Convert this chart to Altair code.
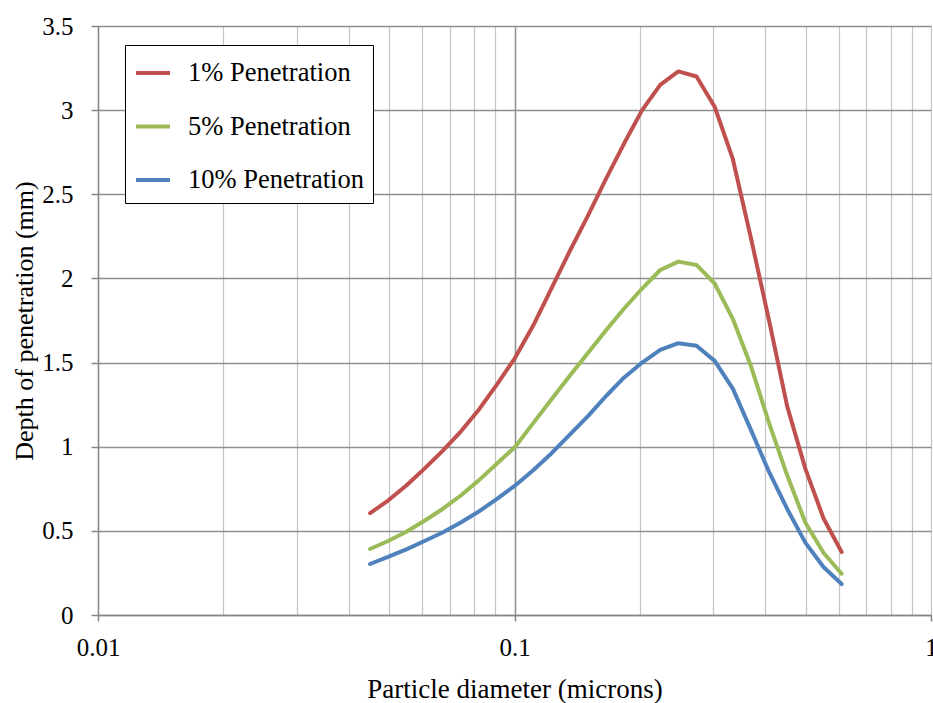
import altair as alt
import pandas as pd

# Particle diameters (microns) at which penetration depth was evaluated
diameter = [0.0450, 0.0497, 0.0550, 0.0608, 0.0672, 0.0743, 0.0821, 0.0908, 0.1004,
            0.1109, 0.1226, 0.1356, 0.1499, 0.1657, 0.1831, 0.2025, 0.2238, 0.2474,
            0.2735, 0.3024, 0.3343, 0.3695, 0.4085, 0.4516, 0.4992, 0.5519, 0.6101]

# Depth of penetration (mm) for each penetration level
pen_1 = [0.605, 0.68, 0.77, 0.87, 0.975, 1.09, 1.22, 1.37, 1.53,
         1.72, 1.94, 2.16, 2.37, 2.59, 2.80, 3.00, 3.15, 3.23,
         3.20, 3.02, 2.71, 2.24, 1.75, 1.24, 0.87, 0.575, 0.374]
pen_5 = [0.392, 0.44, 0.495, 0.56, 0.63, 0.71, 0.80, 0.90, 1.00,
         1.14, 1.28, 1.42, 1.555, 1.69, 1.82, 1.94, 2.05, 2.10,
         2.08, 1.97, 1.76, 1.48, 1.14, 0.83, 0.55, 0.37, 0.245]
pen_10 = [0.303, 0.345, 0.39, 0.44, 0.49, 0.55, 0.615, 0.69, 0.77,
          0.86, 0.96, 1.07, 1.18, 1.30, 1.41, 1.50, 1.575, 1.615,
          1.60, 1.51, 1.345, 1.10, 0.85, 0.63, 0.43, 0.285, 0.184]

series_names = ["1% Penetration", "5% Penetration", "10% Penetration"]
series_colors = ["#C0504D", "#9BBB59", "#4F81BD"]

x_ticks = [0.01, 0.02, 0.03, 0.04, 0.05, 0.06, 0.07, 0.08, 0.09,
           0.1, 0.2, 0.3, 0.4, 0.5, 0.6, 0.7, 0.8, 0.9, 1]
y_ticks = [0, 0.5, 1, 1.5, 2, 2.5, 3, 3.5]

rows = []
for name, values in zip(series_names, [pen_1, pen_5, pen_10]):
    for d, v in zip(diameter, values):
        rows.append({"diameter": d, "depth": v, "series": name})
df = pd.DataFrame(rows)

FONT = "Liberation Serif"
decade_test = "datum.value == 0.01 || datum.value == 0.1 || datum.value == 1"

x_axis = alt.Axis(
    values=x_ticks,
    labelExpr="datum.value == 0.01 ? '0.01' : datum.value == 0.1 ? '0.1' : datum.value == 1 ? '1' : ''",
    labelOverlap=False,
    labelFlush=False,
    labelPadding=14,
    tickSize=6,
    tickOpacity={"condition": {"test": decade_test, "value": 1}, "value": 0},
    gridColor={"condition": {"test": "datum.value == 0.1", "value": "#8f8f8f"}, "value": "#c4c4c4"},
    gridWidth={"condition": {"test": "datum.value == 0.1", "value": 1.5}, "value": 1.2},
    title="Particle diameter (microns)",
    titleFontSize=27,
    titleY=82,
)

y_axis = alt.Axis(
    values=y_ticks,
    format="~g",
    labelPadding=18,
    tickSize=7,
    gridColor="#8f8f8f",
    gridWidth=1.5,
    title="Depth of penetration (mm)",
    titleFontSize=26,
    titleX=-66,
)

legend = alt.Legend(
    orient="none",
    legendX=27,
    legendY=19,
    title=None,
    symbolType="stroke",
    symbolSize=1156,
    symbolStrokeWidth=4,
    labelOffset=16,
    labelLimit=0,
    rowPadding=20.5,
    padding=9,
    strokeColor="black",
    fillColor="white",
)

chart = alt.Chart(df).mark_line(strokeWidth=4, strokeCap="round", strokeJoin="round").encode(
    x=alt.X("diameter:Q", scale=alt.Scale(type="log", domain=[0.01, 1], nice=False), axis=x_axis),
    y=alt.Y("depth:Q", scale=alt.Scale(domain=[0, 3.5], nice=False), axis=y_axis),
    color=alt.Color("series:N", sort=series_names,
                    scale=alt.Scale(domain=series_names, range=series_colors), legend=legend),
    order=alt.Order("diameter:Q"),
).properties(
    width=833,
    height=589,
    autosize=alt.AutoSizeParams(type="none"),
    padding={"left": 98, "top": 26, "right": 2, "bottom": 88},
).configure(
    background="white",
    font=FONT,
).configure_view(
    stroke=None
).configure_axis(
    labelFont=FONT,
    labelFontSize=25,
    labelColor="black",
    tickColor="#868686",
    tickWidth=1.5,
    grid=True,
    domainColor="#868686",
    domainWidth=1.5,
    titleFont=FONT,
    titleFontWeight="normal",
    titleColor="black",
    titleBaseline="alphabetic",
).configure_legend(
    labelFont=FONT,
    labelFontSize=26.5,
    labelColor="black",
)

chart.save("out.html", embed_options={"renderer": "svg", "actions": False})
